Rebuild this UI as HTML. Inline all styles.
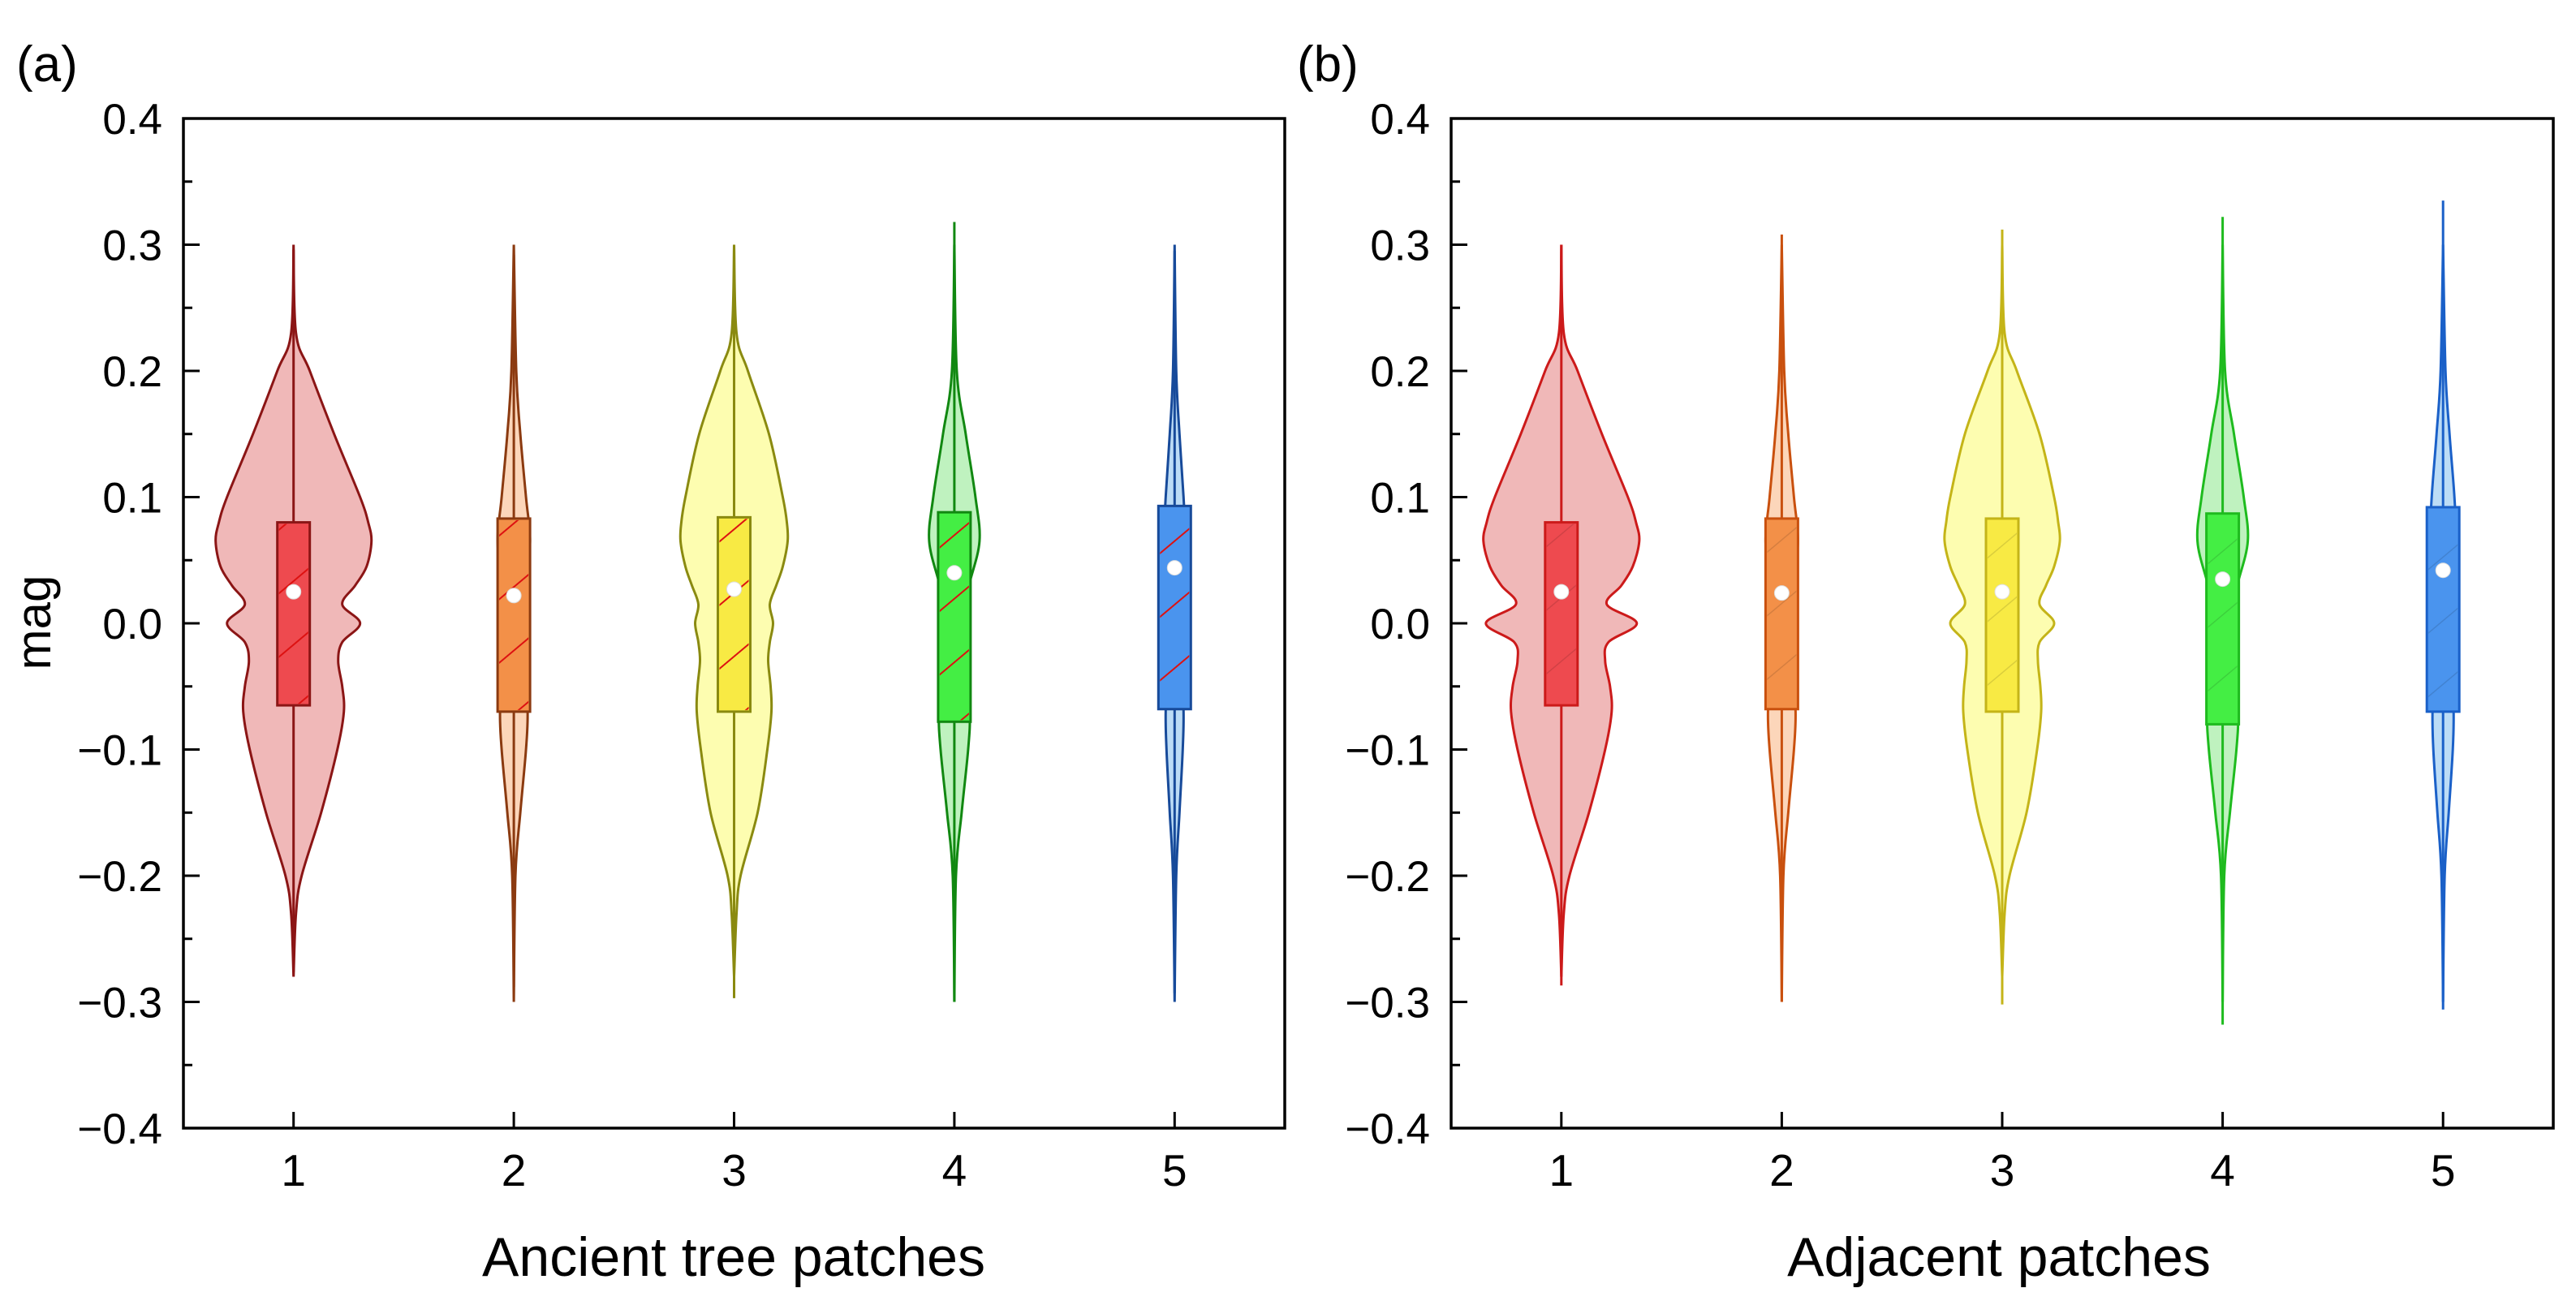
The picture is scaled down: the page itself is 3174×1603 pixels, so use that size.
<!DOCTYPE html>
<html><head><meta charset="utf-8"><style>
html,body{margin:0;padding:0;background:#fff;}
svg{display:block;font-family:"Liberation Sans",Arial,sans-serif;}
</style></head><body>
<svg id="chart" width="3174" height="1603" viewBox="0 0 3174 1603" xmlns="http://www.w3.org/2000/svg">
<defs>
<pattern id="hatchA" patternUnits="userSpaceOnUse" width="60" height="60" patternTransform="rotate(-40)">
<line x1="0" y1="0" x2="60" y2="0" stroke="#dd1111" stroke-width="4"/></pattern>
<pattern id="hatchB" patternUnits="userSpaceOnUse" width="60" height="60" patternTransform="rotate(-40)">
<line x1="0" y1="0" x2="60" y2="0" stroke="#000" stroke-opacity="0.12" stroke-width="3"/></pattern>
</defs>
<g id="root"></g>
</svg>
<script>
const categories = ["1","2","3","4","5"];
const yTicks = [0.4,0.3,0.2,0.1,0.0,-0.1,-0.2,-0.3,-0.4];
const yTickLabels = ["0.4","0.3","0.2","0.1","0.0","\u22120.1","\u22120.2","\u22120.3","\u22120.4"];
const levelsWide = [0.30,0.23,0.2,0.15,0.1,0.08,0.065,0.045,0.03,0.015,0.0,-0.015,-0.03,-0.05,-0.07,-0.1,-0.15,-0.2,-0.23,-0.28];
const densA1 = [0,3,20,50,82,92,96,90,76,60,82,60,55,60,62,54,34,10,3,0];
const densA3 = [0,3,17,43,60,65,66,60,52,44,48,44,42,45,46,41,29,8,3,0];
const densB1 = [0,3,20,50,82,92,96,88,74,56,93,58,54,60,62,54,34,10,3,0];
const densB3 = [0,3,18,46,64,69,71,64,54,46,64,46,44,47,48,43,30,9,3,0];
const levelsThin = [0.30,0.2,0.15,0.1,0.065,0.03,0.0,-0.03,-0.07,-0.1,-0.15,-0.2,-0.30];
const densA2 = [0,3,8,15,20,14,10,13,17,15,8,2,0];
const densA4 = [0,3,14,26,31,18,8,14,19,17,9,2,0];
const densA5 = [0,2,6,11,13,10,7,8,11,10,6,2,0];
const densB2 = [0,3,8,15,20,14,10,13,17,15,8,2,0];
const densB4 = [0,3,14,26,31,18,8,14,19,17,9,2,0];
const densB5 = [0,3,8,14,16,11,8,10,13,12,7,2,0];
const whiskerMaxA = [0.296,0.292,0.300,0.318,0.295];
const whiskerMinA = [-0.276,-0.288,-0.297,-0.300,-0.293];
const whiskerMaxB = [0.300,0.308,0.312,0.322,0.335];
const whiskerMinB = [-0.287,-0.300,-0.302,-0.318,-0.306];
const q3A = [0.080,0.083,0.084,0.088,0.093];
const q1A = [-0.065,-0.070,-0.070,-0.078,-0.068];
const meanA = [0.025,0.022,0.027,0.040,0.044];
const q3B = [0.080,0.083,0.083,0.087,0.092];
const q1B = [-0.065,-0.068,-0.070,-0.080,-0.070];
const meanB = [0.025,0.024,0.025,0.035,0.042];

const NS="http://www.w3.org/2000/svg";
const root=document.getElementById('root');
function el(tag,attrs,parent,text){const e=document.createElementNS(NS,tag);for(const k in attrs)e.setAttribute(k,attrs[k]);if(text!==undefined)e.textContent=text;(parent||root).appendChild(e);return e;}

const panels=[
 {id:"a",x0:226,x1:1583,label:"(a)",title:"Ancient tree patches",titleX:904,
  dens:[densA1,densA2,densA3,densA4,densA5],lv:[levelsWide,levelsThin,levelsWide,levelsThin,levelsThin],
  wmax:whiskerMaxA,wmin:whiskerMinA,q3:q3A,q1:q1A,mean:meanA,hatch:"url(#hatchA)",
  stroke:["#8b1515","#8b3a10","#8a8a10","#118811","#174a9a"],
  fill:["#f0b8b8","#fcd6ba","#fdfdb0","#bff2bf","#bcdcf6"],
  box:["#ee4a4f","#f39048","#f8ea44","#44ee44","#4a94ee"]},
 {id:"b",x0:1788,x1:3146,label:"(b)",title:"Adjacent patches",titleX:2463,
  dens:[densB1,densB2,densB3,densB4,densB5],lv:[levelsWide,levelsThin,levelsWide,levelsThin,levelsThin],
  wmax:whiskerMaxB,wmin:whiskerMinB,q3:q3B,q1:q1B,mean:meanB,hatch:"url(#hatchB)",
  stroke:["#cc1a1a","#c9500e","#c4b418","#1ebb1e","#1a60c8"],
  fill:["#f0b8b8","#fcd6ba","#fdfdb0","#bff2bf","#bcdcf6"],
  box:["#ee4a4f","#f39048","#f8ea44","#44ee44","#4a94ee"]}
];
const yTop=146,yBot=1390,vMax=0.4,vMin=-0.4;
function yScale(v){return yTop+(vMax-v)/(vMax-vMin)*(yBot-yTop);}

function smoothPath(pts){
 let d="M"+pts[0][0]+","+pts[0][1];
 for(let i=0;i<pts.length-1;i++){
  const p0=pts[i-1]||pts[i],p1=pts[i],p2=pts[i+1],p3=pts[i+2]||p2;
  const c1=[p1[0]+(p2[0]-p0[0])/6,p1[1]+(p2[1]-p0[1])/6];
  const c2=[p2[0]-(p3[0]-p1[0])/6,p2[1]-(p3[1]-p1[1])/6];
  d+=" C"+c1[0].toFixed(1)+","+c1[1].toFixed(1)+" "+c2[0].toFixed(1)+","+c2[1].toFixed(1)+" "+p2[0].toFixed(1)+","+p2[1].toFixed(1);
 }
 return d;
}

panels.forEach(p=>{
 const g=el('g',{});
 
 
 const n=categories.length, step=(p.x1-p.x0)/n;
 const xScale=i=>p.x0+step*(i+0.5);
 categories.forEach((c,i)=>{
  const cx=xScale(i), lv=p.lv[i], ds=p.dens[i];
  const right=lv.map((v,k)=>[cx+ds[k],yScale(v)]);
  const left=lv.map((v,k)=>[cx-ds[k],yScale(v)]).reverse();
  const d=smoothPath(right)+" L"+left[0][0]+","+left[0][1]+smoothPath(left).replace(/^M[^C]*/," ")+" Z";
  const vg=el('g',{},g);
  
  
  const vp=el('path',{d:d,fill:p.fill[i],stroke:p.stroke[i],'stroke-width':3},vg);
  
  
  const wl=el('line',{x1:cx,x2:cx,y1:yScale(p.wmax[i]),y2:yScale(p.wmin[i]),stroke:p.stroke[i],'stroke-width':3},vg);
  
  
  const bw=40, by=yScale(p.q3[i]), bh=yScale(p.q1[i])-by;
  const br=el('rect',{x:cx-bw/2,y:by,width:bw,height:bh,fill:p.box[i],stroke:p.stroke[i],'stroke-width':3},vg);
  
  
  const bh2=el('rect',{x:cx-bw/2+2,y:by+2,width:bw-4,height:bh-4,fill:p.hatch},vg);
  
  
  const mc=el('circle',{cx:cx,cy:yScale(p.mean[i]),r:9,fill:'#fff',stroke:'#ddd','stroke-width':1},vg);
  
  
 });
 const fr=el('rect',{x:p.x0,y:yTop,width:p.x1-p.x0,height:yBot-yTop,fill:'none',stroke:'#000','stroke-width':3.5},g);
 
 
 yTicks.forEach((t,k)=>{
  const y=yScale(t);
  const tk=el('line',{x1:p.x0,x2:p.x0+20,y1:y,y2:y,stroke:'#000','stroke-width':3},g);
  
  
  if(k<yTicks.length-1){
   const ym=yScale(t-0.05);
   const mt=el('line',{x1:p.x0,x2:p.x0+11,y1:ym,y2:ym,stroke:'#000','stroke-width':3},g);
   
   
  }
  const tl=el('text',{x:p.x0-26,y:y+19,'text-anchor':'end','font-size':53,fill:'#000'},g,yTickLabels[k]);
  
  
 });
 categories.forEach((c,i)=>{
  const x=xScale(i);
  const xt=el('line',{x1:x,x2:x,y1:yBot,y2:yBot-20,stroke:'#000','stroke-width':3},g);
  
  
  const xl=el('text',{x:x,y:1461,'text-anchor':'middle','font-size':55,fill:'#000'},g,c);
  
  
 });
 const tt=el('text',{x:p.titleX,y:1572,'text-anchor':'middle','font-size':68,fill:'#000'},g,p.title);
 
 
 const pl=el('text',{x:p.id==="a"?20:1598,y:100,'font-size':62,fill:'#000'},g,p.label);
 
 
});
const yt=el('text',{x:0,y:0,'text-anchor':'middle','font-size':60,fill:'#000',transform:'translate(62,767) rotate(-90)'});


yt.textContent="mag";
</script>
</body></html>
